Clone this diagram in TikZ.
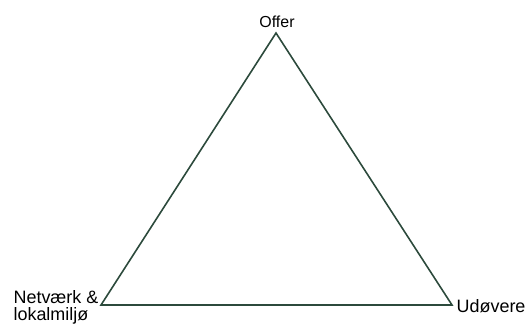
\documentclass[tikz,border=0pt]{standalone}
\usepackage{fontspec}
\setmainfont{Liberation Sans}
\definecolor{edgegreen}{HTML}{2C4A3C}
\begin{document}
\begin{tikzpicture}[x=1bp,y=-1bp,line join=miter,font=\fontsize{18}{17.5}\selectfont]

  \useasboundingbox (0,0) rectangle (530,326);

  % hjoerner af trekanten
  \coordinate (offer)   at (276,33);
  \coordinate (netvaerk) at (101,305);
  \coordinate (udoevere) at (452,305);

  \draw[edgegreen,line width=1.6bp] (offer) -- (udoevere) -- (netvaerk) -- cycle;

  % etiketter
  \node[anchor=base,inner sep=0pt,font=\fontsize{16}{18}\selectfont] (offerlbl) at (277,27.5) {Offer};
  \node[anchor=north east,align=left,inner sep=0pt] (netlbl) at (98.5,290) {Netværk \&\\lokalmiljø};
  \node[anchor=base west,inner sep=0pt] (udolbl) at (456.5,312.5) {Udøvere};

\end{tikzpicture}
\end{document}
